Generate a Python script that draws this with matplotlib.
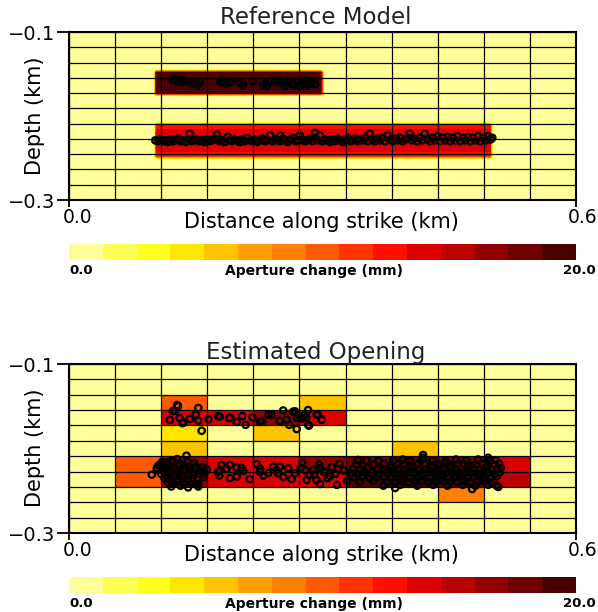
import numpy as np
import matplotlib
matplotlib.use("Agg")
from matplotlib import pyplot as plt
from matplotlib.colors import ListedColormap, BoundaryNorm
from matplotlib.transforms import ScaledTranslation

###################################################################################################
# Settings
###################################################################################################
# aperture colour scale, 0-20 mm in 15 steps
AP_COLORS = ['#ffff99', '#ffff55', '#ffff22', '#ffe600', '#ffc300', '#ffa000', '#ff7f00',
             '#ff5a00', '#ff3300', '#ff0f00', '#dd0000', '#bb0000', '#910000', '#700000', '#4b0000']
AP_MAX = 20.0

# fault plane: 0-0.6 km along strike, -0.1 to -0.3 km depth, 11 x 11 patches
X_MIN, X_MAX = 0.0, 0.6
Z_TOP, Z_BOT = -0.1, -0.3
N_STRIKE = 11
N_DEPTH = 11

###################################################################################################
# Reference model: two fractures (m / mm)
###################################################################################################
frac_x0 = [99.4, 99.4]          # start along strike
frac_x1 = [301.7, 501.6]        # end along strike
frac_ztop = [-145.2, -207.1]    # upper edge depth
frac_zbot = [-177.4, -252.4]    # lower edge depth
frac_peak = [19.6, 14.3]        # max aperture
frac_drop = [0.0, 0.2]          # relative fall-off of aperture towards upper/lower edge
TAPER = 4.0                     # edge ramp width (m)

# events used for the reference model (x m, depth m)
ref_up = [(123, -157), (126, -155), (128, -159), (131, -156), (134, -160), (137, -158), (145, -162),
          (147, -159), (152, -163), (155, -160), (179, -159), (181, -157), (183, -160), (186, -162),
          (191, -160), (193, -158), (203, -161), (206, -163), (218, -159), (230, -163), (233, -161),
          (235, -163), (244, -159), (247, -157), (249, -160), (254, -161), (256, -164), (259, -160),
          (261, -158), (264, -162), (267, -163), (270, -160), (273, -164), (276, -161), (279, -157),
          (282, -163), (285, -161), (288, -159), (291, -162)]

ref_low = [(102, -229), (105, -230), (108, -228), (111, -230), (114, -229), (117, -231), (120, -228),
           (123, -230), (126, -229), (129, -227), (132, -230), (135, -229), (138, -231), (141, -228),
           (143, -221), (145, -230), (148, -229), (151, -228), (154, -230), (157, -229), (160, -231),
           (163, -228), (166, -230), (169, -229), (172, -227), (175, -222), (175, -228), (178, -230),
           (181, -229), (184, -231), (188, -225), (190, -229), (193, -230), (196, -228), (199, -229),
           (202, -231), (205, -228), (208, -230), (211, -226), (214, -229), (217, -230), (220, -228),
           (223, -231), (226, -229), (229, -227), (232, -230), (235, -229), (238, -223), (241, -230),
           (244, -228), (247, -229), (250, -223), (250, -230), (253, -227), (256, -229), (259, -231),
           (262, -228), (265, -226), (268, -230), (271, -229), (273, -223), (276, -228), (279, -230),
           (282, -229), (285, -227), (288, -230), (291, -220), (291, -226), (294, -229), (297, -223),
           (300, -230), (303, -228), (306, -229), (309, -231), (312, -228), (315, -230), (318, -227),
           (321, -229), (324, -231), (327, -228), (330, -226), (333, -230), (336, -229), (339, -227),
           (342, -230), (345, -228), (348, -229), (351, -226), (354, -230), (356, -221), (359, -228),
           (362, -230), (365, -227), (368, -229), (371, -226), (374, -230), (377, -223), (380, -228),
           (383, -230), (386, -227), (389, -229), (392, -226), (395, -230), (398, -228), (401, -226),
           (403, -221), (406, -229), (409, -227), (412, -230), (415, -226), (418, -229), (421, -221),
           (424, -227), (427, -230), (430, -226), (433, -229), (436, -224), (439, -230), (442, -226),
           (445, -229), (448, -225), (451, -230), (454, -226), (457, -229), (460, -224), (463, -230),
           (466, -226), (469, -229), (472, -225), (475, -230), (478, -226), (481, -229), (484, -224),
           (487, -230), (490, -226), (493, -229), (496, -224), (499, -228), (501, -226)]

###################################################################################################
# Estimated opening per patch (mm), rows from top (-0.1 km) down
###################################################################################################
est_open = [
    [0, 0, 0, 0, 0, 0, 0, 0, 0, 0, 0],
    [0, 0, 0, 0, 0, 0, 0, 0, 0, 0, 0],
    [0, 0, 10.0, 0, 0, 6.0, 0, 0, 0, 0, 0],
    [0, 0, 14.0, 14.0, 16.5, 14.0, 0, 0, 0, 0, 0],
    [0, 0, 4.7, 0, 6.0, 0, 0, 0, 0, 0, 0],
    [0, 0, 6.0, 0, 0, 0, 0, 6.0, 0, 0, 0],
    [0, 10.0, 16.5, 14.0, 14.0, 16.5, 17.5, 17.5, 17.5, 14.0, 0],
    [0, 10.0, 16.5, 14.0, 14.0, 14.0, 19.5, 19.5, 19.5, 15.5, 0],
    [0, 0, 0, 0, 0, 0, 0, 0, 8.7, 0, 0],
    [0, 0, 0, 0, 0, 0, 0, 0, 0, 0, 0],
    [0, 0, 0, 0, 0, 0, 0, 0, 0, 0, 0],
]

# relocated events (x m, depth m)
est_up = [(119.5, -166), (123, -155.5), (125, -155.5), (128, -148.5), (129, -150), (131, -164),
          (134.5, -170), (135, -169), (143, -165), (150, -160), (153, -152), (153, -167), (157, -179),
          (165, -165.5), (176.5, -161.5), (178.5, -162.5), (189.5, -164), (190.5, -163), (198.5, -168.5),
          (205, -161.5), (209, -172), (217, -163), (226, -168.5), (228.5, -168), (236, -160),
          (240, -160.5), (249.5, -167.5), (253.5, -155), (257.5, -166), (260.5, -172), (265, -156.5),
          (267.5, -156), (269.5, -177), (270, -164), (273.5, -162.5), (275.5, -164.5), (279, -160),
          (281, -163), (283, -154.5), (284, -173), (283, -172), (293, -160), (294.5, -160), (299, -166)]

est_low = [
    # western cluster
    (98, -231), (104, -223), (108, -219.5), (124, -216), (128, -212.5), (139, -208.5), (153, -243),
    (110, -216), (116, -217), (122, -215), (131, -218), (140, -216), (148, -217),
    (106, -220), (112, -221), (118, -220), (124, -222), (130, -221), (136, -220), (142, -222),
    (150, -221), (158, -222),
    (104, -225), (110, -226), (115, -224), (120, -226), (126, -225), (131, -227), (137, -225),
    (143, -226), (149, -224), (156, -226), (163, -225),
    (109, -230), (114, -231), (119, -229), (125, -231), (130, -230), (135, -232), (141, -230),
    (147, -231), (153, -229), (160, -230),
    (113, -235), (118, -236), (124, -234), (129, -236), (134, -235), (140, -237), (146, -235),
    (152, -236), (159, -234),
    (117, -240), (123, -241), (128, -239), (135, -241), (142, -240), (150, -242),
    (121, -245), (132, -244), (141, -246), (153, -245),
    # central scatter
    (180.6, -219.5), (190.5, -219.5), (198.4, -222.7), (204.3, -223), (222, -218.6), (226, -224),
    (241.7, -221.5), (249.6, -221.5), (259.4, -223.4), (274, -222.7), (177.8, -232), (190.5, -234.9),
    (198.4, -233.3), (214, -236.1), (229.9, -232), (247.6, -229.3), (263.4, -236.1), (267.4, -229.3),
    (281.2, -237.3), (285, -231.4), (178.6, -225.4), (186.5, -224.2), (206.2, -226.6), (226, -227.8),
    (235.8, -229), (245.7, -225.4), (253.5, -233.7), (176.3, -227.8), (289, -225.4), (297, -223),
    (303, -227.8), (293, -237.3), (309, -232.5), (276, -217), (280, -226), (290, -231), (296, -219),
    (302, -228), (306, -235), (311, -222), (315, -230), (320, -218), (325, -226), (329, -238),
    (297, -242), (317, -243),
    # eastern cluster
    (342, -213.6), (419, -207.7), (419, -211), (496, -211), (508, -245.5), (477, -248), (386, -246.7),
    (352, -214), (366, -215), (384, -214), (395, -213), (404, -215), (417, -214), (430, -214),
    (446, -215), (458, -213), (470, -214), (484, -213), (497, -215), (505, -214),
    (340, -219), (348, -220), (361, -219), (373, -218), (381, -220), (389, -219), (397, -218),
    (405, -220), (413, -219), (421, -218), (430, -220), (437, -219), (445, -218), (452, -220),
    (460, -219), (467, -218), (474, -220), (482, -219), (489, -218), (496, -220), (503, -219),
    (509, -218),
    (336, -224), (345, -225), (353, -223), (365, -224), (374, -225), (382, -223), (390, -224),
    (398, -225), (406, -223), (414, -224), (422, -225), (429, -223), (436, -224), (444, -225),
    (451, -223), (458, -224), (465, -225), (472, -223), (479, -224), (486, -225), (493, -223),
    (500, -224), (507, -225), (511, -223),
    (333, -229), (342, -230), (350, -228), (358, -229), (367, -230), (376, -228), (385, -229),
    (393, -230), (401, -228), (409, -229), (417, -230), (425, -228), (433, -229), (440, -230),
    (447, -228), (455, -229), (462, -230), (469, -228), (476, -229), (483, -230), (490, -228),
    (497, -229), (504, -230), (510, -228),
    (338, -234), (347, -233), (356, -235), (364, -234), (372, -233), (381, -235), (388, -234),
    (396, -233), (403, -235), (411, -234), (419, -233), (427, -235), (435, -234), (442, -233),
    (449, -235), (457, -234), (464, -233), (471, -235), (478, -234), (485, -233), (492, -235),
    (499, -234), (506, -233),
    (344, -239), (360, -238), (377, -240), (386, -239), (394, -238), (402, -240), (410, -239),
    (418, -238), (426, -240), (434, -239), (443, -238), (451, -240), (459, -239), (467, -238),
    (475, -240), (483, -239), (491, -238), (499, -240),
    (372, -244), (392, -243), (412, -244), (431, -243), (448, -244), (466, -243), (481, -244),
    (496, -243), (506, -244),
]

###################################################################################################
# Reference aperture field on a 1 m x 0.5 m raster
###################################################################################################
xc = np.arange(0.5, 600.0, 1.0)
zc = np.arange(-100.25, -300.0, -0.5)
XX, ZZ = np.meshgrid(xc, zc)
refField = np.zeros_like(XX)
for x0, x1, zt, zb, peak, drop in zip(frac_x0, frac_x1, frac_ztop, frac_zbot, frac_peak, frac_drop):
    zmid = 0.5 * (zt + zb)
    half = 0.5 * (zt - zb)
    dEdgeX = np.minimum(XX - x0, x1 - XX)
    dEdgeZ = half - np.abs(ZZ - zmid)
    ramp = np.clip(dEdgeX / TAPER, 0, 1) * np.clip(dEdgeZ / TAPER, 0, 1)
    prof = 1.0 - drop * ((ZZ - zmid) / half) ** 2
    refField = np.maximum(refField, peak * prof * ramp)

###################################################################################################
# Plot
###################################################################################################
cmap = ListedColormap(AP_COLORS)
norm = BoundaryNorm(np.linspace(0, AP_MAX, len(AP_COLORS) + 1), cmap.N)
xEdges = np.linspace(X_MIN, X_MAX, N_STRIKE + 1)
zEdges = np.linspace(Z_TOP, Z_BOT, N_DEPTH + 1)

fig = plt.figure(figsize=(5.98, 6.12), dpi=100)
ax1 = fig.add_axes([0.11538, 0.67320, 0.84783, 0.27451])
ax2 = fig.add_axes([0.11538, 0.12908, 0.84783, 0.27614])
cax1 = fig.add_axes([0.11538, 0.57516, 0.84783, 0.02614])
cax2 = fig.add_axes([0.11538, 0.03105, 0.84783, 0.02614])

ax1.imshow(refField, cmap=cmap, norm=norm, extent=[X_MIN, X_MAX, Z_BOT, Z_TOP],
           origin='upper', aspect='auto', interpolation='nearest', zorder=1)
ax2.pcolormesh(xEdges, zEdges, np.array(est_open), cmap=cmap, norm=norm,
               edgecolors='none', zorder=1)

for ax in (ax1, ax2):
    for xe in xEdges:
        ax.axvline(xe, color='black', lw=0.9, zorder=2)
    for ze in zEdges:
        ax.axhline(ze, color='black', lw=0.9, zorder=2)

evSets = [(ax1, ref_up + ref_low), (ax2, est_up + est_low)]
for ax, ev in evSets:
    ev = np.array(ev, dtype=float) / 1000.0
    ax.scatter(ev[:, 0], ev[:, 1], s=21, facecolors='none', edgecolors='black',
               linewidths=1.6, zorder=4)

# x tick labels sit just right of the tick, the last one pulled inside the figure
px = lambda n: ScaledTranslation(n / 100, 0, fig.dpi_scale_trans)
for ax in (ax1, ax2):
    ax.set_xlim(X_MIN, X_MAX)
    ax.set_ylim(Z_BOT, Z_TOP)
    ax.set_xticks([X_MIN, X_MAX])
    ax.set_xticklabels(['0.0', '0.6'], fontsize=13.5)
    ax.set_yticks([Z_TOP, Z_BOT])
    ax.set_yticklabels(['\u22120.1', '\u22120.3'], fontsize=14)
    ax.tick_params(axis='y', length=8.6, width=1.3, pad=1)
    ax.tick_params(axis='x', length=5, width=1.3, pad=1)
    labs = ax.get_xticklabels()
    labs[0].set_horizontalalignment('left')
    labs[0].set_transform(labs[0].get_transform() + px(-6))
    labs[1].set_horizontalalignment('right')
    labs[1].set_transform(labs[1].get_transform() + px(21))
    for sp in ax.spines.values():
        sp.set_linewidth(1.5)
        sp.set_zorder(5)

for cax in (cax1, cax2):
    cb = fig.colorbar(plt.cm.ScalarMappable(norm=norm, cmap=cmap), cax=cax, orientation='horizontal')
    cb.outline.set_visible(False)
    cb.minorticks_off()
    cb.set_ticks([])
    cax.tick_params(which='both', length=0)

# titles and axis labels
for yTitle, yXlab, yYlab, yCb in [(0.9706, 0.6373, 0.8113, 0.5572), (0.4248, 0.0931, 0.2680, 0.0131)]:
    fig.text(0.5275, yTitle, 'Reference Model' if yTitle > 0.5 else 'Estimated Opening',
             ha='center', va='center', fontsize=16.5, color='#222222')
    fig.text(0.538, yXlab, 'Distance along strike (km)', ha='center', va='center', fontsize=15)
    fig.text(0.0585, yYlab, 'Depth (km)', ha='center', va='center', rotation=90, fontsize=15)
    fig.text(0.1154, yCb, '0.0', ha='left', va='center', fontsize=9.5, fontweight='bold')
    fig.text(0.525, yCb, 'Aperture change (mm)', ha='center', va='center', fontsize=10,
             fontweight='bold')
    fig.text(0.997, yCb, '20.0', ha='right', va='center', fontsize=9.5, fontweight='bold')

fig.savefig('out.png', dpi=100)
